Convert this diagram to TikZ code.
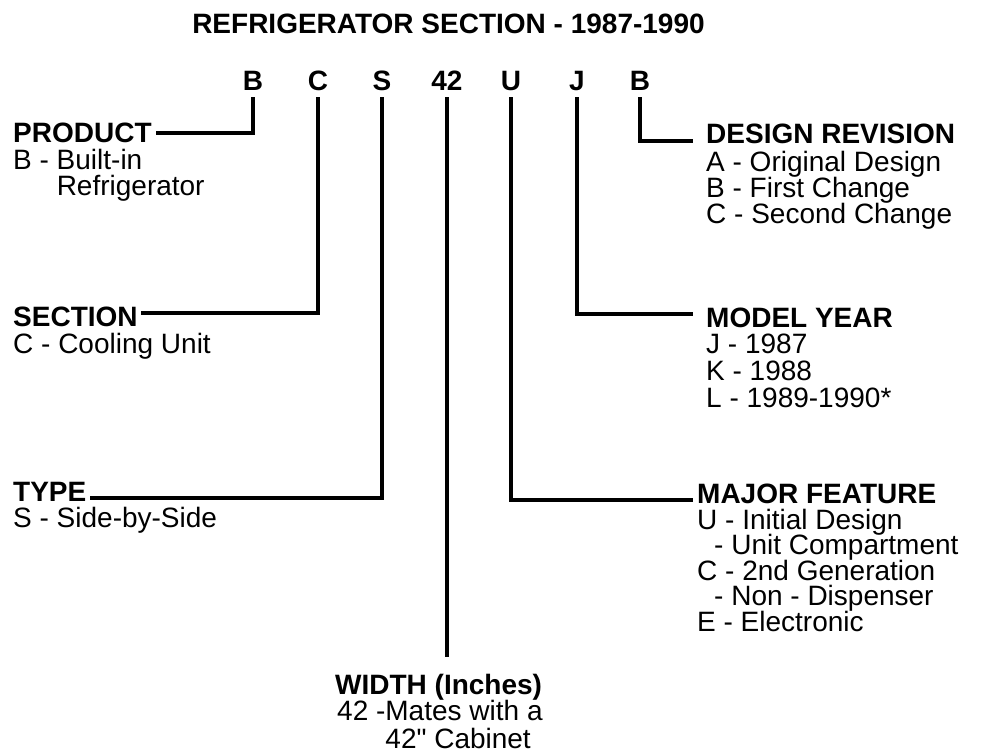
\documentclass[tikz,border=0pt]{standalone}
\usepackage{fontspec}
\newfontfamily\lbfont{Liberation Sans}
\usetikzlibrary{positioning, calc}
\newcommand{\headfont}{\lbfont\bfseries\fontsize{28}{26}\selectfont}
\newcommand{\itemfont}{\lbfont\fontsize{28}{26}\selectfont}

\begin{document}
\begin{tikzpicture}[
  x=1pt, y=-1pt,
  head/.style={font=\headfont, inner sep=0pt, anchor=base west},
  item/.style={font=\itemfont, inner sep=0pt, anchor=base west},
  code/.style={font=\headfont, inner sep=0pt, anchor=base},
  lead/.style={line width=4.5pt},
]
\useasboundingbox (0,0) rectangle (1007,755);

% title and model number
\node[head, anchor=base] (title) at (448.5,33) {REFRIGERATOR SECTION - 1987-1990};
\foreach \n/\t/\x in {cB/B/253, cC/C/318, cS/S/382, cW/42/447,
  cU/U/511, cJ/J/577, cR/B/640} {
  \node[code] (\n) at (\x,90) {\t};
}

% left side headings
\node[head] (product) at (13,142) {PRODUCT};
\node[head] (section) at (13,326) {SECTION};
\node[head] (type) at (13,501) {TYPE};

% right side headings
\node[head] (revision) at (706,143) {DESIGN REVISION};
\node[head] (year) at (706,327) {MODEL YEAR};
\node[head] (feature) at (697,503) {MAJOR FEATURE};

% bottom heading
\node[head] (width) at (335,694) {WIDTH (Inches)};

% code lists
\foreach \t [count=\i from 0] in {B - Built-in, \phantom{B - }Refrigerator} {
  \node[item, name=prod\i] at (13,169+26*\i) {\t};
}
\node[item] (sect0) at (13,353) {C - Cooling Unit};
\node[item] (type0) at (13,527) {S - Side-by-Side};
\foreach \t [count=\i from 0] in {A - Original Design, B - First Change,
  C - Second Change} {
  \node[item, name=rev\i] at (706,171+26*\i) {\t};
}
\foreach \t [count=\i from 0] in {J - 1987, K - 1988, L - 1989-1990*} {
  \node[item, name=yr\i] at (706,353+27*\i) {\t};
}
\foreach \t [count=\i from 0] in {U - Initial Design,
  \hspace{17pt}- Unit Compartment, C - 2nd Generation,
  \hspace{17pt}- Non - Dispenser, E - Electronic} {
  \node[item, name=feat\i] at (697,529+25.5*\i) {\t};
}
\node[item] (wid0) at (337,720) {42 -Mates with a};
\node[item] (wid1) at (337,748) {\phantom{42 -}42" Cabinet};

% leader lines
\draw[lead, shorten >=4pt] ([yshift=-7pt]cB.base) |- ([yshift=9pt]product.base east);
\draw[lead, shorten >=3pt] ([yshift=-7pt]cC.base) |- ([yshift=13pt]section.base east);
\draw[lead, shorten >=3pt] ([yshift=-7pt]cS.base) |- ([yshift=3pt]type.base east);
\draw[lead, shorten >=17pt] ([yshift=-7pt]cW.base) -- (cW.base |- width.north);
\draw[lead, shorten >=4pt] ([yshift=-7pt]cU.base) |- ([yshift=3pt]feature.base west);
\draw[lead, shorten >=13pt] ([yshift=-7pt]cJ.base) |- ([yshift=13pt]year.base west);
\draw[lead, shorten >=13pt] ([yshift=-7pt]cR.base) |- ([yshift=2pt]revision.base west);

\end{tikzpicture}
\end{document}
